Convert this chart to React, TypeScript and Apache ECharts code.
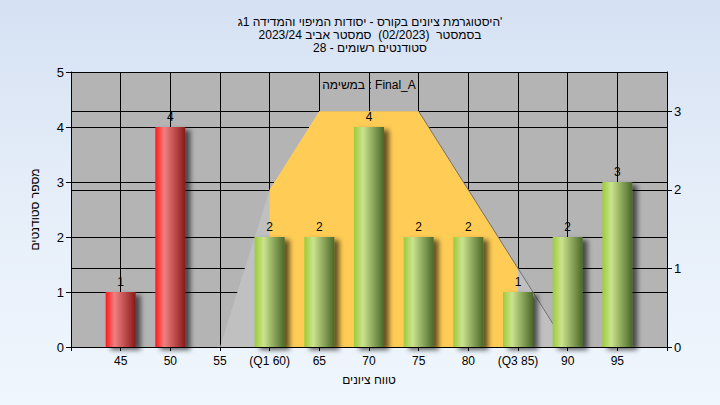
import React, { useEffect, useRef } from 'react';
import * as echarts from 'echarts';

const titleLines = [
  "היסטוגרמת ציונים בקורס - יסודות המיפוי והמדידה 1ג'",
  'בסמסטר  (02/2023)  סמסטר אביב 2023/24',
  'סטודנטים רשומים - 28',
];
const gradePositions = [45, 50, 55, 60, 65, 70, 75, 80, 85, 90, 95];
const gradeLabels = ['45', '50', '55', '(Q1 60)', '65', '70', '75', '80', '(Q3 85)', '90', '95'];
const studentCounts = [1, 4, 0, 2, 2, 4, 2, 2, 1, 2, 3];
const passGrade = 55;
const curveX = [55, 60, 65, 70, 75, 80, 85, 90];
const curveY = [0, 2, 3, 3, 3, 2, 1, 0];
const q1 = 60;
const q3 = 85;
const rightTicks = [0, 1, 2, 3];
const yLeftName = 'מספר סטודנטים';
const xName = 'טווח ציונים';
const legendText = 'במשימה : Final_A';

const FONT = '"Liberation Sans", Arial, sans-serif';

export default function App() {
  const ref = useRef<HTMLDivElement>(null);
  useEffect(() => {
    if (!ref.current) return;
    const chart = echarts.init(ref.current, undefined, { renderer: 'svg' });
    const redGrad = new echarts.graphic.LinearGradient(0, 0, 1, 0, [
      { offset: 0, color: '#ff1a1a' },
      { offset: 0.3, color: '#f08080' },
      { offset: 1, color: '#8a1818' },
    ]);
    const greenGrad = new echarts.graphic.LinearGradient(0, 0, 1, 0, [
      { offset: 0, color: '#9ccb3a' },
      { offset: 0.3, color: '#cbe38e' },
      { offset: 1, color: '#4a6828' },
    ]);
    const curve = curveX.map((x, i) => [x, curveY[i]]);
    const maxY = Math.max(...curveY);
    const plateauEnd = curveX[curveY.lastIndexOf(maxY)];
    const inner = curve.filter((p) => p[0] >= q1 && p[0] <= q3);
    const edge = curve.filter((p) => p[0] >= plateauEnd);
    const bars = gradePositions.map((g, i) => ({
      value: [g, studentCounts[i]],
      itemStyle: { color: g < passGrade ? redGrad : greenGrad },
    }));

    chart.setOption({
      animation: false,
      backgroundColor: 'transparent',
      textStyle: { fontFamily: FONT },
      title: {
        text: titleLines.join('\n'),
        left: 365,
        top: 10,
        textAlign: 'center',
        textStyle: { fontSize: 12, fontWeight: 'normal', color: '#000', lineHeight: 13, fontFamily: FONT },
      },
      graphic: [
        {
          type: 'text',
          x: 369,
          y: 85,
          style: {
            text: legendText,
            fill: '#000',
            font: `12px ${FONT}`,
            textAlign: 'center',
            textVerticalAlign: 'middle',
          },
          z: 100,
        },
      ],
      grid: {
        left: 71,
        right: 53,
        top: 72,
        bottom: 58,
        containLabel: false,
        show: true,
        backgroundColor: '#b4b4b4',
        borderWidth: 0,
      },
      xAxis: {
        type: 'value',
        min: 40,
        max: 100,
        interval: 5,
        name: xName,
        nameLocation: 'middle',
        nameGap: 27,
        nameTextStyle: { fontSize: 12, color: '#000', fontFamily: FONT },
        axisLine: { show: true, lineStyle: { color: '#000', width: 1 } },
        axisTick: { show: true, length: 4, lineStyle: { color: '#000' } },
        axisLabel: {
          fontSize: 12,
          color: '#000',
          margin: 8,
          fontFamily: FONT,
          formatter: (v: number) => {
            const i = gradePositions.indexOf(v);
            return i >= 0 ? gradeLabels[i] : '';
          },
        },
        splitLine: { show: true, lineStyle: { color: '#000', width: 1 } },
      },
      yAxis: [
        {
          type: 'value',
          min: 0,
          max: 5,
          interval: 1,
          position: 'left',
          name: yLeftName,
          nameLocation: 'middle',
          nameGap: 30,
          nameTextStyle: { fontSize: 12, color: '#000', fontFamily: FONT },
          axisLine: { show: true, lineStyle: { color: '#000', width: 1 } },
          axisTick: { show: true, length: 5, lineStyle: { color: '#000' } },
          axisLabel: { fontSize: 13, color: '#000', margin: 7, fontFamily: FONT },
          splitLine: { show: true, lineStyle: { color: '#000', width: 1 } },
        },
        {
          type: 'value',
          min: 0,
          max: 3.5,
          interval: 1,
          position: 'right',
          axisLine: { show: true, lineStyle: { color: '#000', width: 1 } },
          axisTick: { show: true, length: 5, lineStyle: { color: '#000' }, customValues: rightTicks },
          axisLabel: {
            fontSize: 13,
            color: '#000',
            margin: 7,
            fontFamily: FONT,
            customValues: rightTicks,
            formatter: (v: number) => (Number.isInteger(v) ? String(v) : ''),
          },
          splitLine: { show: true, lineStyle: { color: '#000', width: 1 } },
        },
      ],
      series: [
        {
          type: 'line',
          yAxisIndex: 1,
          z: 1,
          data: curve,
          showSymbol: false,
          symbol: 'none',
          lineStyle: { width: 0 },
          areaStyle: { color: '#c0c0c0', opacity: 1 },
          silent: true,
        },
        {
          type: 'line',
          yAxisIndex: 1,
          z: 1,
          data: inner,
          showSymbol: false,
          symbol: 'none',
          lineStyle: { width: 0 },
          areaStyle: { color: '#ffcc55', opacity: 1 },
          silent: true,
        },
        {
          type: 'line',
          yAxisIndex: 1,
          z: 1,
          data: edge,
          showSymbol: false,
          symbol: 'none',
          lineStyle: { width: 1, color: '#707070' },
          silent: true,
        },
        {
          type: 'bar',
          yAxisIndex: 0,
          z: 5,
          data: bars,
          barWidth: 30,
          itemStyle: {
            shadowColor: 'rgba(0,0,0,0.6)',
            shadowBlur: 5,
            shadowOffsetX: 5,
            shadowOffsetY: 3,
          },
          label: {
            show: true,
            position: 'top',
            distance: 4,
            fontSize: 12,
            color: '#000',
            fontFamily: FONT,
            formatter: (p: any) => (p.value[1] > 0 ? String(p.value[1]) : ''),
          },
        },
      ],
    });
    return () => chart.dispose();
  }, []);

  return (
    <div
      style={{
        position: 'fixed',
        left: 0,
        top: 0,
        width: 720,
        height: 405,
        background: 'linear-gradient(to bottom, #d5e1f3 0%, #e6eef9 50%, #eff6fd 100%)',
      }}
    >
      <div ref={ref} style={{ width: 720, height: 405 }} />
    </div>
  );
}
